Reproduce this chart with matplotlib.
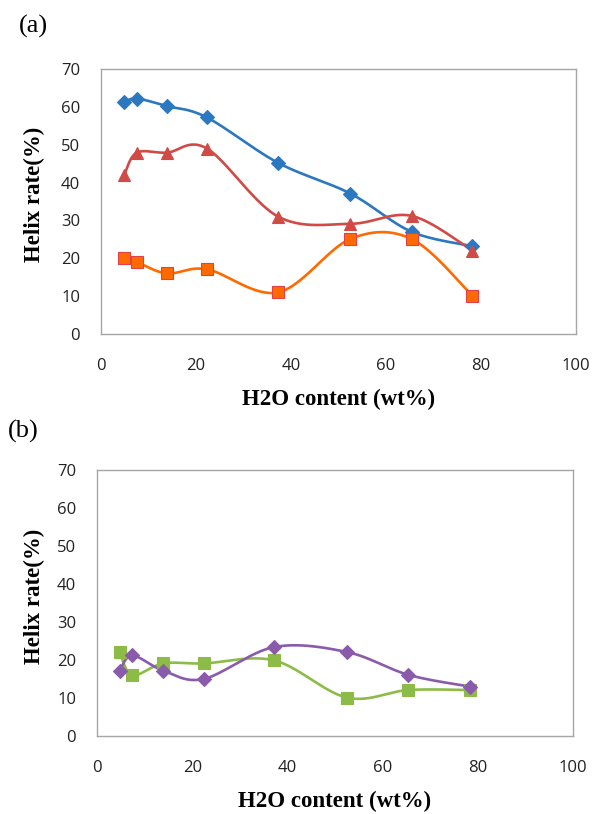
import numpy as np
import matplotlib
matplotlib.use("Agg")
import matplotlib.pyplot as plt

# ---- data ----
x_a = [4.9, 7.5, 13.9, 22.3, 37.3, 52.5, 65.4, 78.2]
blue_a = [61.2, 62.2, 60.2, 57.2, 45.2, 37.1, 27.0, 23.2]
red_a = [42.0, 47.9, 47.9, 49.0, 31.0, 29.1, 31.2, 22.0]
orange_a = [20.1, 19.0, 16.0, 17.1, 11.0, 25.1, 25.1, 10.1]

x_b = [4.8, 7.4, 13.9, 22.4, 37.2, 52.5, 65.4, 78.3]
green_b = [22.0, 16.0, 19.1, 19.1, 19.9, 10.1, 12.1, 12.1]
purple_b = [17.2, 21.2, 17.2, 15.0, 23.4, 22.1, 16.1, 13.0]

xticks = [0, 20, 40, 60, 80, 100]
yticks = [0, 10, 20, 30, 40, 50, 60, 70]


def smooth(x, y, n=30):
    """Catmull-Rom style smoothing similar to spreadsheet smoothed lines."""
    P = np.column_stack([x, y]).astype(float)
    out = []
    for i in range(len(P) - 1):
        p0 = P[i - 1] if i > 0 else P[i]
        p1 = P[i]
        p2 = P[i + 1]
        p3 = P[i + 2] if i + 2 < len(P) else P[i + 1]
        c1 = p1 + (p2 - p0) / 6.0
        c2 = p2 - (p3 - p1) / 6.0
        t = np.linspace(0, 1, n)[:, None]
        seg = ((1 - t) ** 3) * p1 + 3 * ((1 - t) ** 2) * t * c1 + 3 * (1 - t) * t ** 2 * c2 + t ** 3 * p2
        out.append(seg if i == 0 else seg[1:])
    s = np.vstack(out)
    return s[:, 0], s[:, 1]


W, H = 601, 814
fig = plt.figure(figsize=(W / 100, H / 100), dpi=100)
ax_a = fig.add_axes([101 / W, 1 - 334 / H, 475 / W, 265 / H])
ax_b = fig.add_axes([97 / W, 1 - 736 / H, 476 / W, 266 / H])

tick_font = dict(family=["Open Sans", "DejaVu Sans"], size=12)
lab_font = dict(family=["Liberation Serif", "DejaVu Serif"], size=16.5, weight="bold")

series_a = [
    (blue_a, "#2B78C0", "D", 7, "#2B78C0"),
    (red_a, "#D24A46", "^", 9, "#D24A46"),
    (orange_a, "#FF6A00", "s", 8, "#E0404A"),
]
series_b = [
    (green_b, "#8DBB47", "s", 8, "#8DBB47"),
    (purple_b, "#8A5BAA", "D", 7, "#8A5BAA"),
]

for ax, xs, series, xl_y, yl_y in [(ax_a, x_a, series_a, 399, 194),
                                   (ax_b, x_b, series_b, 801, 596)]:
    for ys, col, mk, ms, mec in series:
        sx, sy = smooth(xs, ys)
        ax.plot(sx, sy, color=col, lw=1.9, zorder=2)
        ax.plot(xs, ys, linestyle="none", marker=mk, ms=ms, color=col,
                mec=mec, mew=0.8, zorder=3)
    ax.set_xlim(0, 100)
    ax.set_ylim(0, 70)
    ax.set_xticks(xticks)
    ax.set_yticks(yticks)
    ax.set_xticklabels([str(v) for v in xticks], **tick_font)
    ax.set_yticklabels([str(v) for v in yticks], **tick_font)
    ax.tick_params(length=0, colors="#222222")
    ax.tick_params(axis="x", pad=17)
    ax.tick_params(axis="y", pad=15)
    for sp in ax.spines.values():
        sp.set_color("#A6A6A6")
        sp.set_linewidth(1.0)
    ax.set_xlabel("H2O content (wt%)", **lab_font)
    ax.xaxis.set_label_coords(0.5 * (ax.get_position().x0 + ax.get_position().x1),
                              1 - xl_y / H, transform=fig.transFigure)
    ax.xaxis.label.set_va("center")
    ax.set_ylabel("Helix rate(%)", **lab_font)
    ax.yaxis.set_label_coords(34 / W, 1 - yl_y / H, transform=fig.transFigure)
    ax.yaxis.label.set_va("center")

fig.text(19 / W, 1 - 26 / H, "(a)", family=["Liberation Serif", "DejaVu Serif"], size=19, va="center")
fig.text(8 / W, 1 - 431 / H, "(b)", family=["Liberation Serif", "DejaVu Serif"], size=19, va="center")

fig.savefig("out.png", dpi=100)
